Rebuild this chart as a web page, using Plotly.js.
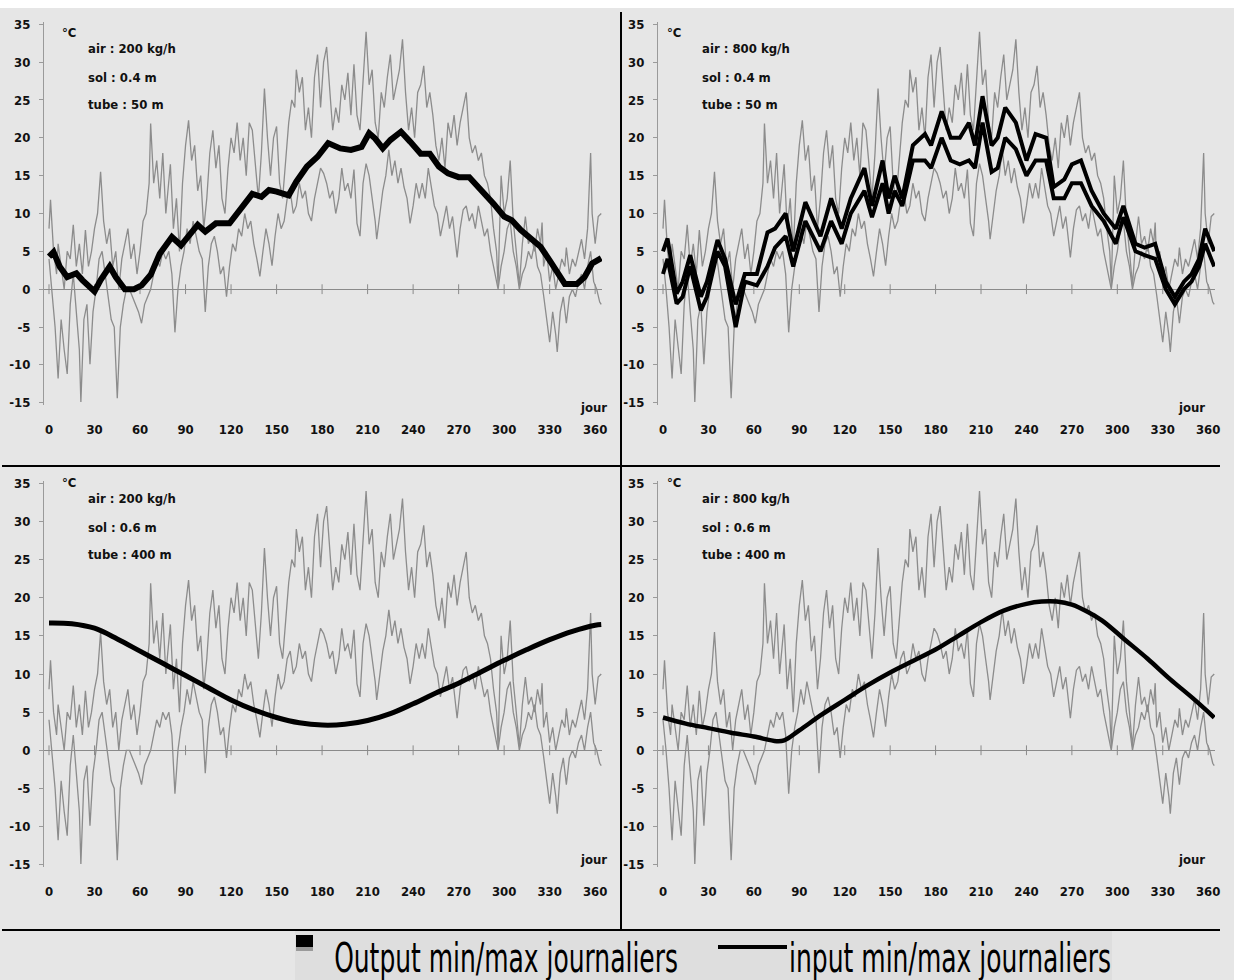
<!DOCTYPE html>
<html><head><meta charset="utf-8">
<script src="https://cdn.plot.ly/plotly-3.0.1.min.js"></script>
<style>html,body{margin:0;padding:0;background:#e6e6e6;}#chart{width:1234px;height:980px;}</style>
</head><body><div id="chart"></div>
<script>
// ---------- DATA ----------
const xTicks = [0,30,60,90,120,150,180,210,240,270,300,330,360];
const yTicks = [-15,-10,-5,0,5,10,15,20,25,30,35];

// daily max air temperature (input, grey)
const airMaxDays = [
 0,1,3,5,6,8,10,12,14,16,
 18,20,22,24,26,28,30,32,34,36,
 38,40,42,44,46,48,50,52,54,56,
 58,60,62,64,66,67,69,71,73,75,
 77,79,80,82,84,86,88,90,92,94,
 96,98,100,102,104,106,108,110,112,114,
 116,118,120,122,124,126,128,130,132,134,
 136,138,140,142,144,146,148,150,152,154,
 156,158,160,162,163,165,167,169,171,173,
 175,177,179,181,183,185,187,189,191,193,
 195,197,199,201,203,205,207,209,211,213,
 215,217,219,221,223,225,227,229,231,233,
 235,237,239,241,243,245,247,249,251,253,
 255,257,259,261,263,265,267,269,271,273,
 275,277,279,281,283,285,287,289,291,293,
 295,296,298,300,302,304,306,308,310,312,
 314,316,318,320,322,324,325,326,328,330,
 332,334,336,338,340,341,343,345,347,349,
 351,353,355,357,358,360,362,364];
const airMax = [
 8,11.8,5,2,6,3,0,5,4,8.5,
 3,6,2,7.8,3,5,8,10,15.5,9,
 6,8,3,5,0,4,6,8,4,6,
 2,5,9,10,14,21.9,14,17,12,18,
 10,15,16.5,8,12,5,14,19,22.3,17,
 19,13,15,8,12,18,21,16,19,12,
 10,16,20,18,22,17,20,15,22,21,
 16,12,18,26.5,20,15,20,21.5,14,12,
 17,22,25,24,29,26,28,21,24,20,
 28,31,24,30,32,26,21,24,22,27,
 25,28.6,23,29.7,23,21,28,34,27,29,
 22,20,26,24,28,31,25,27,29,33,
 26,21,24,20,26,27,29.5,24,26,23,
 19,17,20,16,22,20,23,19,22,24,
 26,20,18,19,17,18,15,14,12,8,
 5,0.5,15,10,12,17,9,5,0.5,6,
 9.6,6,7,5,8,6,8.8,3,5,1,
 3,0,2,4,3,5.5,2,4,3,5,
 6.6,4,8,18,10,6,9.6,10];

// daily min air temperature (input, grey)
const airMinDays = [
 0,2,4,6,8,10,12,14,16,18,
 20,21,23,25,27,29,31,33,35,37,
 39,41,43,45,47,49,51,53,55,57,
 59,61,63,65,67,69,71,73,75,77,
 79,81,83,85,87,89,91,93,95,97,
 99,101,103,105,107,109,111,113,115,117,
 119,121,123,125,127,129,131,133,135,137,
 139,141,143,145,147,149,151,153,155,157,
 159,161,163,165,167,169,171,173,175,177,
 179,181,183,185,187,189,191,193,195,197,
 199,201,203,205,207,209,211,213,215,216,
 218,220,222,224,226,228,230,232,234,236,
 238,240,242,244,246,248,250,252,254,256,
 258,260,262,264,266,268,269,271,273,275,
 277,279,281,283,285,287,289,291,293,295,
 296,298,300,302,304,306,308,310,312,314,
 316,318,320,322,324,326,328,330,332,334,
 335,337,339,341,343,345,347,349,351,353,
 355,357,359,361,363,364];
const airMin = [
 4,0,-5,-11.8,-4,-8,-11.2,-2,2,-3,
 -8,-14.9,-4,-2,-9.9,-3,0,4,5,2,
 -1,-4,-5,-14.4,-5,-2,0,0,-1,-2,
 -3,-4.5,-2,-1,0,2,4,3,5,4,
 5,2,-5.7,0,3,5,8,6,9,7,
 5,4,-3,3,6,7,5,2,3,-1,
 3,6,5,8,7,10,8,9,6,4,
 1.7,5,8,6,3.1,7,10,8,9,12,
 13,10,11,14,12,13,10,9,12,14,
 16,15.3,14,12,13,10,12,16,13,14,
 12,15.8,8.7,7,14,16.6,15,12,9,6.6,
 10,13,15,18.4,15,17,14,16,13.5,12,
 8.7,11,14,12,14,12,16,13.2,11,10,
 7,9,11,8,9.6,6,4.2,8,10.5,11,
 9,10,8,11,9,7,8,5,3,1,
 0,3,5,8,9,5,3,0,2,3,
 5,4,6,3,2,-0.8,-4,-7,-3,-6,
 -8.3,-3,-1,-4.5,-1,0,-1,1,2,0,
 3,5,1,0,-1.7,-2];

// output, air 200 kg/h, sol 0.4 m, tube 50 m
const outA_days = [0,3,7,12,18,22,30,34,40,44,50,56,61,67,73,81,87,93,98,103,110,119,124,129,134,140,145,150,158,163,170,177,184,192,199,206,211,215,220,225,232,238,245,251,257,263,270,277,285,293,300,305,311,319,324,330,336,340,348,353,358,364];
const outA = [4.3,4.9,3,1.6,2.1,1.2,-0.3,1.2,3,1.6,0,0,0.5,1.9,4.7,6.9,5.8,7.4,8.5,7.6,8.7,8.7,10,11.3,12.6,12.2,13.1,12.9,12.4,14.2,16.2,17.5,19.3,18.6,18.4,18.8,20.6,19.9,18.6,19.7,20.8,19.5,17.9,17.9,16.2,15.3,14.8,14.8,13.1,11.3,9.6,9.1,7.8,6.3,5.6,3.8,2.1,0.7,0.7,1.6,3.4,4.1];

// output, air 800 kg/h, sol 0.4 m, tube 50 m (max & min)
const outB_days = [0,3,9,13,18,21,25,29,36,41,48,54,62,69,74,81,86,94,104,111,118,124,133,138,145,149,153,158,165,173,177,184,190,196,202,206,211,217,221,226,233,240,246,253,258,265,270,276,283,291,299,304,312,318,325,332,338,344,349,354,358,362,364];
const outB_max = [5,6.7,-0.6,1,4.5,2,-1,1,6.5,4,-2,2,2,7.5,8,10,5,11.5,7,12,8,12,16,11,17,12,15,12,19,20.5,19,23.5,20,20,22,19,25.5,19,20,24,22,17,20.5,20,13.5,14.5,16.5,17,13,10,8,11,6,5.5,6,1,-1,1,2,4,8,6,5];
const outB_min = [2,4,-1.9,-1,3,0.5,-2.8,-1,5,3,-5,1,0.5,3,5.5,7,3,9,5,9,6,10,13,9.5,14,10,13,11,17,17,16,20,17,16.5,17,16,22,15.5,16,20,18.5,15,17,17,12,12,14,14,11,9,6,9.5,5,4.5,4,0,-2,0,1,3,6,4,3];

// output, air 200 kg/h, sol 0.6 m, tube 400 m
const outC_days = [0,15,30,45,60,75,90,105,120,135,150,165,180,195,210,225,240,255,270,285,300,315,330,345,360,364];
const outC = [16.7,16.6,16.0,14.6,13.0,11.4,9.8,8.2,6.6,5.3,4.3,3.6,3.3,3.4,3.9,4.8,6.1,7.5,8.8,10.3,11.8,13.2,14.5,15.6,16.4,16.5];

// output, air 800 kg/h, sol 0.6 m, tube 400 m
const outD_days = [0,15,30,45,60,75,80,90,105,120,135,150,165,180,195,210,225,240,250,260,270,280,290,305,320,335,350,364];
const outD = [4.3,3.5,2.9,2.3,1.8,1.2,1.3,2.6,4.7,6.6,8.5,10.2,11.7,13.2,15,16.8,18.3,19.2,19.5,19.5,19.1,18.2,17,14.5,12,9.3,6.8,4.3];

const panelParams = [
 ["air : 200 kg/h","sol : 0.4 m","tube : 50 m"],
 ["air : 800 kg/h","sol : 0.4 m","tube : 50 m"],
 ["air : 200 kg/h","sol : 0.6 m","tube : 400 m"],
 ["air : 800 kg/h","sol : 0.6 m","tube : 400 m"]
];
const legendLabels = ["Output min/max journaliers","input min/max journaliers"];

// ---------- LAYOUT ----------
const W = 1234, H = 980;
const px = x => x / W, py = y => 1 - y / H;
const FONT = "DejaVu Sans Condensed, Liberation Sans Narrow, sans-serif";
const GREY = "#8c8c8c";
const TXT = {family: FONT, size: 13, color: "#111", weight: "bold"};

const panels = [
 {xa:"x",  ya:"y",  xd:[44,602],   yd:[22,405]},
 {xa:"x2", ya:"y2", xd:[658,1215], yd:[22,405]},
 {xa:"x3", ya:"y3", xd:[44,602],   yd:[481,867]},
 {xa:"x4", ya:"y4", xd:[658,1215], yd:[481,867]}
];
const outputs = [
 [{x:outA_days, y:outA, w:6}],
 [{x:outB_days, y:outB_max, w:4},{x:outB_days, y:outB_min, w:4}],
 [{x:outC_days, y:outC, w:5, shape:"spline"}],
 [{x:outD_days, y:outD, w:4.5, shape:"spline"}]
];

const traces = [];
const layout = {
 width: W, height: H,
 margin: {l:0, r:0, t:0, b:0, pad:0},
 paper_bgcolor: "#e6e6e6", plot_bgcolor: "#e6e6e6",
 showlegend: false,
 font: {family: FONT, color: "#111"},
 shapes: [], annotations: []
};

panels.forEach((p, i) => {
 const n = i === 0 ? "" : String(i + 1);
 layout["xaxis" + n] = {
  domain: [px(p.xd[0]), px(p.xd[1])], range: [-3.3, 364.5], anchor: p.ya,
  tickvals: xTicks, ticktext: xTicks.map(String), showline: false, ticks: "",
  showgrid: false, zeroline: false, ticklabelstandoff: 15,
  tickfont: TXT, fixedrange: true
 };
 layout["yaxis" + n] = {
  domain: [py(p.yd[1]), py(p.yd[0])], range: [-15.3, 35.3], anchor: p.xa,
  tickvals: yTicks, ticktext: yTicks.map(String), showline: true, linecolor: "#9a9a9a", linewidth: 1,
  ticks: "outside", ticklen: 4, tickcolor: "#9a9a9a", showgrid: false,
  zeroline: true, zerolinecolor: "#8a8a8a", zerolinewidth: 1, ticklabelstandoff: 6,
  tickfont: TXT, fixedrange: true
 };
 traces.push({x: airMaxDays, y: airMax, xaxis: p.xa, yaxis: p.ya, mode: "lines",
  line: {color: GREY, width: 1.3}, hoverinfo: "skip"});
 traces.push({x: airMinDays, y: airMin, xaxis: p.xa, yaxis: p.ya, mode: "lines",
  line: {color: GREY, width: 1.3}, hoverinfo: "skip"});
 traces.push({x: xTicks, y: xTicks.map(() => 0), xaxis: p.xa, yaxis: p.ya, mode: "markers",
  marker: {symbol: "line-ns", size: 7, line: {color: "#8a8a8a", width: 1}}, hoverinfo: "skip"});
 outputs[i].forEach(o => traces.push({x: o.x, y: o.y, xaxis: p.xa, yaxis: p.ya, mode: "lines",
  line: {color: "#000", width: o.w, shape: o.shape || "linear"}}));

 // texts
 layout.annotations.push({xref: "paper", yref: "paper", x: px(p.xd[0] + 16), y: py(p.yd[0] + 1),
  text: "°C", showarrow: false, font: TXT});
 panelParams[i].forEach((t, k) => layout.annotations.push({xref: "paper", yref: "paper",
  x: px(p.xd[0] + 42), y: py(p.yd[0] + [17, 46, 73][k]), xanchor: "left", text: t, showarrow: false,
  font: TXT}));
 layout.annotations.push({xref: "paper", yref: "paper", x: px(p.xd[0] + 549), y: py(p.yd[1] + 2),
  text: "jour", showarrow: false, font: TXT});
});

// frame & legend decorations
layout.shapes.push(
 {type: "rect", xref: "paper", yref: "paper", x0: 0, x1: 1, y0: py(8), y1: 1, fillcolor: "#ffffff", line: {width: 0}, layer: "below"},
 {type: "rect", xref: "paper", yref: "paper", x0: px(295), x1: px(1112), y0: 0, y1: py(931), fillcolor: "#dedede", line: {width: 0}, layer: "below"},
 {type: "line", xref: "paper", yref: "paper", x0: px(621), x1: px(621), y0: py(12), y1: py(930), line: {color: "#000", width: 2}},
 {type: "line", xref: "paper", yref: "paper", x0: px(2), x1: px(1220), y0: py(466), y1: py(466), line: {color: "#000", width: 2}},
 {type: "line", xref: "paper", yref: "paper", x0: px(2), x1: px(1220), y0: py(930), y1: py(930), line: {color: "#000", width: 2}},
 {type: "rect", xref: "paper", yref: "paper", x0: px(296), x1: px(313), y0: py(947), y1: py(935), fillcolor: "#000", line: {width: 0}},
 {type: "rect", xref: "paper", yref: "paper", x0: px(296), x1: px(313), y0: py(951), y1: py(947), fillcolor: "#9a9a9a", line: {width: 0}},
 {type: "line", xref: "paper", yref: "paper", x0: px(718), x1: px(787), y0: py(947), y1: py(947), line: {color: "#000", width: 4}}
);
layout.annotations.push(
 {xref: "paper", yref: "paper", x: px(333), y: py(958), xanchor: "left", yanchor: "middle", text: legendLabels[0],
  showarrow: false, borderpad: 0, font: {family: FONT, size: 40, color: "#000"}},
 {xref: "paper", yref: "paper", x: px(788), y: py(958), xanchor: "left", yanchor: "middle", text: legendLabels[1],
  showarrow: false, borderpad: 0, font: {family: FONT, size: 40, color: "#000"}}
);

Plotly.newPlot("chart", traces, layout, {staticPlot: true, displayModeBar: false}).then(gd => {
 // squeeze the legend texts horizontally like the reference's condensed lettering
 const targets = {[legendLabels[0]]: 344, [legendLabels[1]]: 322};
 gd.querySelectorAll("text.annotation-text").forEach(t => {
  const goal = targets[t.textContent];
  if (!goal) return;
  const w = t.getBBox().width;
  if (w > 0) {
   t.style.transformBox = "fill-box";
   t.style.transformOrigin = "left center";
   t.style.transform = "scaleX(" + (goal / w).toFixed(3) + ")";
  }
 });
});
</script>
</body></html>
